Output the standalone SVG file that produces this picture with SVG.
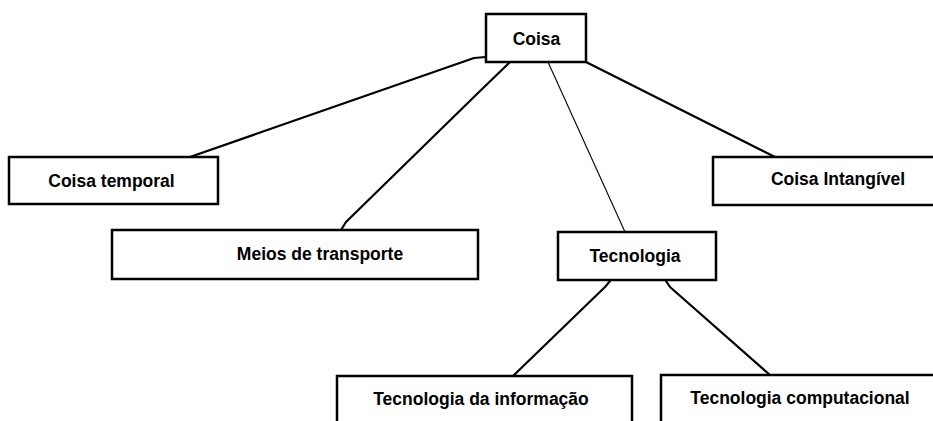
<svg xmlns="http://www.w3.org/2000/svg" width="933" height="421" viewBox="0 0 933 421">
<style>
.box{fill:#fff;stroke:#000;stroke-width:2.5}
.lbl{font-family:"Liberation Sans",Arial,sans-serif;font-weight:bold;font-size:17.5px;fill:#000;text-anchor:middle}
.ln{stroke:#000;stroke-width:2.2;fill:none;stroke-linecap:round;stroke-linejoin:round}
.thin{stroke:#000;stroke-width:1.1;fill:none}
</style>
<rect width="933" height="421" fill="#fff"/>
<g id="connectors">
<path class="ln" d="M486,57 L474,58 L190,157"/>
<path class="ln" d="M509,63 L478,93 L346,222 L341,230"/>
<path class="thin" d="M548,62 L625,232"/>
<path class="ln" d="M586,62 L775,157"/>
<path class="ln" d="M610,281 L605,287 L513,376"/>
<path class="ln" d="M666,281 L670,287 L770,375"/>
</g>
<g id="coisa">
<rect class="box" x="486" y="14" width="100" height="48"/>
<text class="lbl" x="536.5" y="45">Coisa</text>
</g>
<g id="coisa-temporal">
<rect class="box" x="9" y="157" width="209" height="47"/>
<text class="lbl" x="111.5" y="187">Coisa temporal</text>
</g>
<g id="meios-transporte">
<rect class="box" x="112" y="230" width="366" height="49"/>
<text class="lbl" x="320" y="260">Meios de transporte</text>
</g>
<g id="tecnologia">
<rect class="box" x="558" y="232" width="158" height="48"/>
<text class="lbl" x="635" y="262">Tecnologia</text>
</g>
<g id="coisa-intangivel">
<rect class="box" x="713" y="157" width="240" height="48"/>
<text class="lbl" x="838" y="185">Coisa Intangível</text>
</g>
<g id="tecnologia-informacao">
<rect class="box" x="337" y="376" width="295" height="60"/>
<text class="lbl" x="481" y="405">Tecnologia da informação</text>
</g>
<g id="tecnologia-computacional">
<rect class="box" x="661" y="375" width="290" height="60"/>
<text class="lbl" x="800" y="404">Tecnologia computacional</text>
</g>
</svg>
